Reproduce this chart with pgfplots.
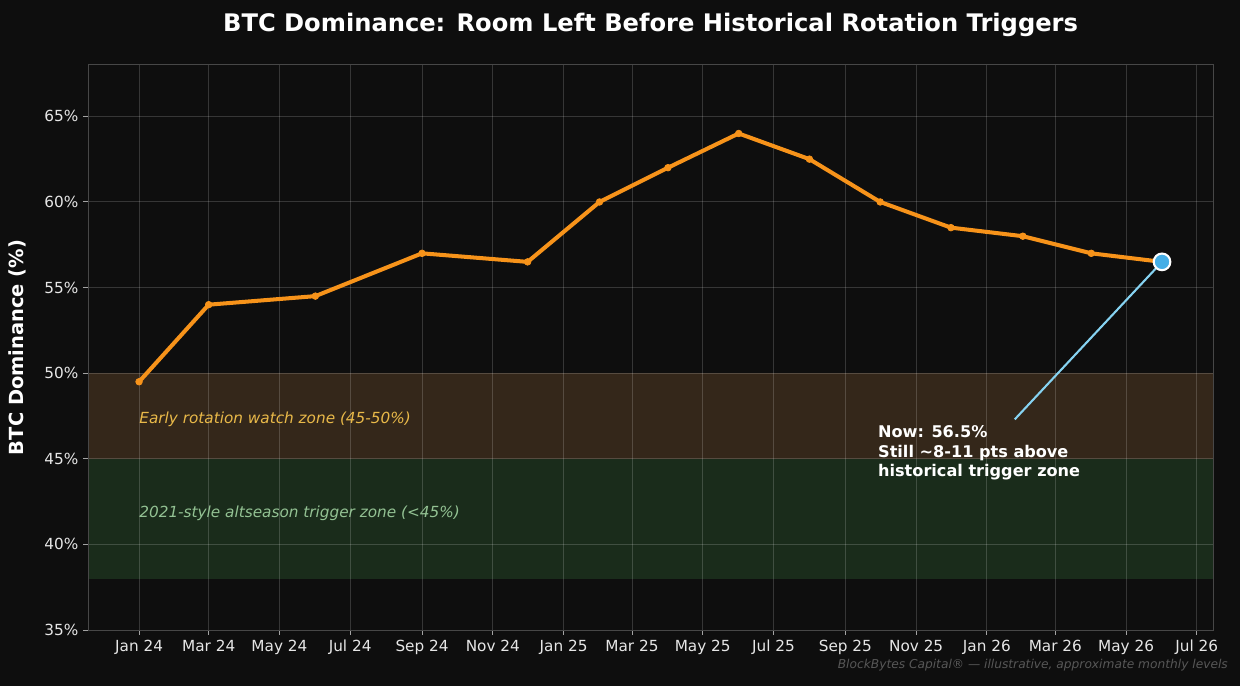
\documentclass[border=0pt]{standalone}
\usepackage{pgfplots}
\pgfplotsset{compat=1.18}
\usepackage{fontspec}
\setmainfont{DejaVu Sans}

\definecolor{bg}{HTML}{0E0E0E}
\definecolor{btc}{HTML}{F7931A}
\definecolor{framec}{HTML}{474747}
\definecolor{watchband}{HTML}{34271A}
\definecolor{triggerband}{HTML}{1A2C1B}
\definecolor{watchtext}{HTML}{E9B949}
\definecolor{triggertext}{HTML}{93C293}
\definecolor{nowblue}{HTML}{45AEE6}
\definecolor{arrowblue}{HTML}{86D3F2}
\definecolor{wm}{HTML}{575757}
\definecolor{tickc}{HTML}{E6E6E6}

\pgfplotsset{
  btcframe/.style={
    at={(0pt,0pt)}, anchor=south west,
    scale only axis, width=810pt, height=406.8pt,
    xmin=-44, xmax=926, ymin=35, ymax=68,
  },
}

\begin{document}
\begin{tikzpicture}
\useasboundingbox (-63.4pt,-40.3pt) rectangle (829.4pt,453.6pt);
\fill[bg] (-63.4pt,-40.3pt) rectangle (829.4pt,453.6pt);

% zone bands, drawn first so the grid lies over them
\begin{axis}[btcframe, axis lines=none, ticks=none]
\addplot[fill=watchband, draw=none]
  coordinates {(-44,45) (926,45) (926,50) (-44,50)};
\addplot[fill=triggerband, draw=none]
  coordinates {(-44,38) (926,38) (926,45) (-44,45)};
\end{axis}

\begin{axis}[
  btcframe,
  % x values are days counted from 1 Jan 2024
  xtick={0,60,121,182,244,305,366,425,486,547,609,670,731,790,851,912},
  xticklabels={Jan 24,Mar 24,May 24,Jul 24,Sep 24,Nov 24,Jan 25,Mar 25,May 25,Jul 25,Sep 25,Nov 25,Jan 26,Mar 26,May 26,Jul 26},
  ytick={35,40,45,50,55,60,65},
  yticklabels={35\%,40\%,45\%,50\%,55\%,60\%,65\%},
  /pgf/number format/assume math mode=true,
  grid=major,
  major grid style={draw=white, draw opacity=0.17, line width=0.7pt},
  axis line style={draw=framec, line width=0.7pt},
  tick style={draw=framec!50!white, line width=0.7pt},
  tick align=outside, major tick length=3.5pt,
  xtick pos=left, ytick pos=left,
  ticklabel style={font=\fontsize{11}{13}\selectfont, text=tickc},
  ylabel={BTC Dominance (\%)},
  ylabel style={at={(axis description cs:-0.0627,0.5)}, anchor=center,
    font=\bfseries\fontsize{14}{16}\selectfont, text=white},
  title={BTC Dominance: Room Left Before Historical Rotation Triggers},
  title style={at={(axis description cs:0.5,1)}, anchor=center, yshift=23pt,
    font=\bfseries\fontsize{17.4}{20}\selectfont, text=white},
]
% BTC dominance, approximate monthly levels
\addplot[btc, line width=2.9pt, line join=round, mark=*, mark size=2.4pt,
  mark options={fill=btc, draw=btc, line width=0.5pt}]
  coordinates {
    (0,49.5) (60,54) (152,54.5) (244,57) (335,56.5) (397,60) (456,62)
    (517,64) (578,62.5) (639,60) (700,58.5) (762,58) (821,57) (882,56.5)
  };

\draw[arrowblue, line width=1.5pt] (axis cs:755,47.3) -- (axis cs:882,56.5);

\addplot[only marks, mark=*, mark size=6pt,
  mark options={fill=nowblue, draw=white, line width=1.5pt}]
  coordinates {(882,56.5)};

\node[anchor=west, inner sep=0pt, font=\itshape\fontsize{11}{13}\selectfont, text=watchtext]
  at (axis cs:0,47.3) {Early rotation watch zone (45-50\%)};
\node[anchor=west, inner sep=0pt, font=\itshape\fontsize{11}{13}\selectfont, text=triggertext]
  at (axis cs:0,41.8) {2021-style altseason trigger zone (<45\%)};

\node[anchor=west, inner sep=0pt, align=left, text=white,
  font=\bfseries\fontsize{11.6}{13.9}\selectfont]
  at (axis cs:637,45.35) {Now: 56.5\%\\Still \textasciitilde8-11 pts above\\historical trigger zone};
\end{axis}
\node[anchor=east, inner sep=0pt, font=\itshape\fontsize{8.8}{10}\selectfont, text=wm]
  at (820.8pt,-25.2pt) {BlockBytes Capital® — illustrative, approximate monthly levels};
\end{tikzpicture}
\end{document}
